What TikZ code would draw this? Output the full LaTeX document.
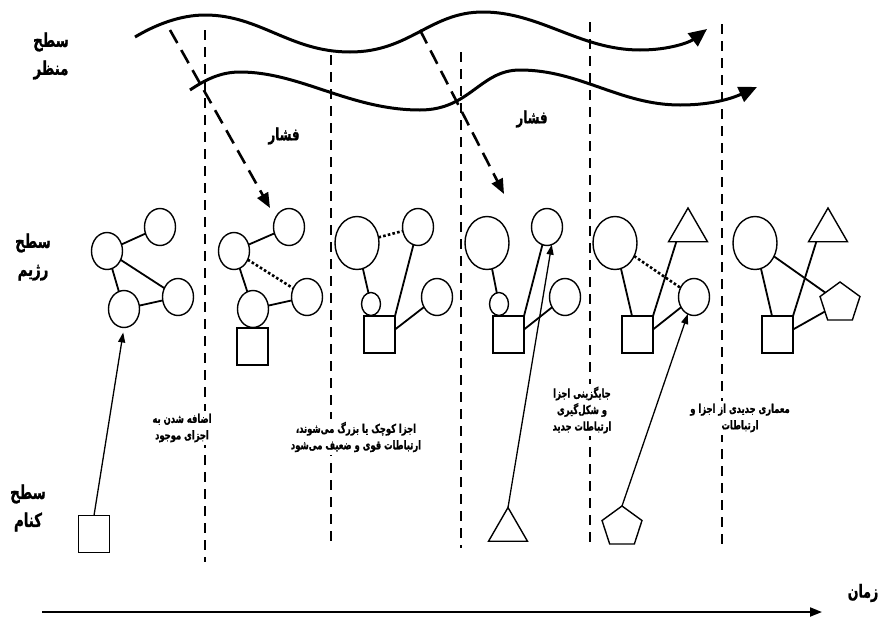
\documentclass[tikz,border=0pt]{standalone}
\usepackage{fontspec}
\newfontfamily\arabicfont[Script=Arabic, FakeStretch=0.7, FakeBold=1]{DejaVu Sans}
\TeXXeTstate=1
\usetikzlibrary{arrows.meta,shapes.geometric,calc}
\newcommand{\rl}[1]{\beginR #1\endR}
\tikzset{
  ell/.style={ellipse, draw, line width=1.4pt, inner sep=0pt, outer sep=0pt, minimum width=31pt, minimum height=37pt},
  bigc/.style={ell, minimum width=44pt, minimum height=53pt},
  smallc/.style={ell, minimum width=19pt, minimum height=23pt},
  sqr/.style={rectangle, draw, line width=1.4pt, minimum width=31pt, minimum height=37pt, inner sep=0pt, outer sep=0pt},
  tri/.style={regular polygon, regular polygon sides=3, draw, line width=1.4pt, minimum size=45pt, inner sep=0pt, outer sep=0pt},
  pent/.style={regular polygon, regular polygon sides=5, draw, line width=1.4pt, minimum size=42pt, inner sep=0pt, outer sep=0pt},
  edge/.style={line width=1.8pt},
  dotedge/.style={line width=2.6pt, dash pattern=on 2.6pt off 2.2pt},
  vdash/.style={line width=1.3pt, dash pattern=on 10pt off 7pt},
  press/.style={line width=2.6pt, dash pattern=on 15pt off 8pt, -{Triangle[length=15pt,width=12pt]}},
  wave/.style={line width=3pt, -{Triangle[length=18pt,width=16pt]}},
  uparrow/.style={line width=1.3pt, -{Triangle[length=10pt,width=7pt]}},
  lbl/.style={font=\arabicfont\bfseries\fontsize{19}{28}\selectfont, align=center, inner sep=0pt},
  presslbl/.style={font=\arabicfont\bfseries\fontsize{17}{18}\selectfont, inner sep=0pt},
  desc/.style={font=\arabicfont\bfseries\fontsize{12}{16.5}\selectfont, align=center, fill=white, inner sep=3pt},
}
\begin{document}
\begin{tikzpicture}[x=1pt,y=-1pt]
\useasboundingbox[fill=white] (0,0) rectangle (882,616);

% vertical dashed separators
\coordinate (v1t) at (205,30);  \coordinate (v1b) at (205,562);
\coordinate (v2t) at (331,55);  \coordinate (v2b) at (331,548);
\coordinate (v3t) at (461,52);  \coordinate (v3b) at (461,548);
\coordinate (v4t) at (590,22);  \coordinate (v4b) at (590,548);
\coordinate (v5t) at (722,24);  \coordinate (v5b) at (722,548);
\foreach \i in {1,...,5} \draw[vdash] (v\i t) -- (v\i b);

% waves
\draw[wave] (135,37) .. controls (155,25) and (180,15) .. (205,15)
  .. controls (260,15) and (290,52) .. (350,52)
  .. controls (410,52) and (430,12) .. (483,12)
  .. controls (540,12) and (580,50) .. (640,50)
  .. controls (670,50) and (690,42) .. (707,29);
\draw[wave] (190,90) .. controls (205,80) and (220,72) .. (240,72)
  .. controls (300,72) and (350,110) .. (420,110)
  .. controls (470,110) and (480,70) .. (520,70)
  .. controls (580,70) and (620,105) .. (680,105)
  .. controls (715,105) and (735,97) .. (757,87);

% pressure arrows
\coordinate (p1s) at (170,30); \coordinate (p1e) at (270,208);
\coordinate (p2s) at (420,30); \coordinate (p2e) at (504,194);
\draw[press] (p1s) -- (p1e);
\draw[press] (p2s) -- (p2e);
\node[presslbl] (f1) at (284,136) {\rl{فشار}};
\node[presslbl] (f2) at (532,119) {\rl{فشار}};

% side labels
\node[lbl] (l1) at (51,56) {\rl{سطح}\\\rl{منظر}};
\node[lbl] (l2) at (33,257) {\rl{سطح}\\\rl{رژیم}};
\node[lbl] (l3) at (28,508) {\rl{سطح}\\\rl{کنام}};

% panel 1
\node[ell] (a1) at (107,251) {};
\node[ell] (b1) at (160,227) {};
\node[ell] (c1) at (124,309) {};
\node[ell] (d1) at (178,297) {};
\draw[edge] (a1) -- (b1);
\draw[edge] (a1) -- (c1);
\draw[edge] (a1) -- (d1);
\draw[edge] (c1) -- (d1);
\node[sqr] (s1) at (94,534) {};

% panel 2
\node[ell] (a2) at (234,251) {};
\node[ell] (b2) at (289,227) {};
\node[ell] (c2) at (253,309) {};
\node[ell] (d2) at (307,297) {};
\node[sqr] (q2) at (252.5,346.5) {};
\draw[edge] (a2) -- (b2);
\draw[edge] (a2) -- (c2);
\draw[edge] (c2) -- (d2);
\draw[dotedge] (a2) -- (d2);

% panel 3
\node[bigc] (a3) at (357,243) {};
\node[ell] (b3) at (418,227) {};
\node[smallc] (c3) at (371,304) {};
\node[ell] (d3) at (437,297) {};
\node[sqr] (q3) at (379.5,334.5) {};
\draw[dotedge] (a3) -- (b3);
\draw[edge] (a3) -- (c3);
\draw[edge] (q3.north east) -- (b3);
\draw[edge] ([yshift=5pt]q3.east) -- (d3);

% panel 4
\node[bigc] (a4) at (487,243) {};
\node[ell] (b4) at (547,227) {};
\node[smallc] (c4) at (499,304) {};
\node[ell] (d4) at (565,297) {};
\node[sqr] (q4) at (508.5,334.5) {};
\draw[edge] (a4) -- (c4);
\draw[edge] (q4.north east) -- (b4);
\draw[edge] ([yshift=5pt]q4.east) -- (d4);
\node[tri] (t4) at (508,530) {};

% panel 5
\node[bigc] (a5) at (615,243) {};
\node[tri] (t5) at (688,230.5) {};
\node[ell] (d5) at (694,297) {};
\node[sqr] (q5) at (637.5,334.5) {};
\draw[edge] (a5) -- ([xshift=-5.5pt]q5.north);
\draw[edge] (q5.north east) -- ($(t5.corner 2)!0.2!(t5.corner 3)$);
\draw[dotedge] (a5) -- (d5);
\draw[edge] ([yshift=5pt]q5.east) -- (d5);
\node[pent] (p5) at (622,527) {};

% panel 6
\node[bigc] (a6) at (755,243) {};
\node[tri] (t6) at (828,230.5) {};
\node[pent] (p6) at (840,303) {};
\node[sqr] (q6) at (777.5,334.5) {};
\draw[edge] (a6) -- ([xshift=-5.5pt]q6.north);
\draw[edge] (q6.north east) -- ($(t6.corner 2)!0.2!(t6.corner 3)$);
\draw[edge] (a6) -- (p6);
\draw[edge] ([yshift=5pt]q6.east) -- (p6);

% description texts
\node[desc] (d1t) at (182,428) {\rl{اضافه شدن به}\\\rl{اجزای موجود}};
\node[desc] (d2t) at (356,437) {\rl{اجزا کوچک یا بزرگ می‌شوند،}\\\rl{ارتباطات قوی و ضعیف می‌شود}};
\node[desc] (d3t) at (582,410) {\rl{جایگزینی اجزا}\\\rl{و شکل‌گیری}\\\rl{ارتباطات جدید}};
\node[desc] (d4t) at (740,418) {\rl{معماری جدیدی از اجزا و}\\\rl{ارتباطات}};

% upward arrows from niche level
\draw[uparrow, shorten >=5pt] (s1.north) -- (c1.south);
\draw[uparrow] (t4.corner 1) -- (b4.285);
\draw[uparrow] (p5.corner 1) -- (d5.250);

% time axis
\coordinate (ts) at (42,612);
\coordinate (te) at (822,612);
\draw[line width=2pt, -{Triangle[length=12pt,width=9pt]}] (ts) -- (te);
\node[lbl, font=\arabicfont\bfseries\fontsize{18}{20}\selectfont] (zt) at (863,593) {\rl{زمان}};
\end{tikzpicture}
\end{document}
